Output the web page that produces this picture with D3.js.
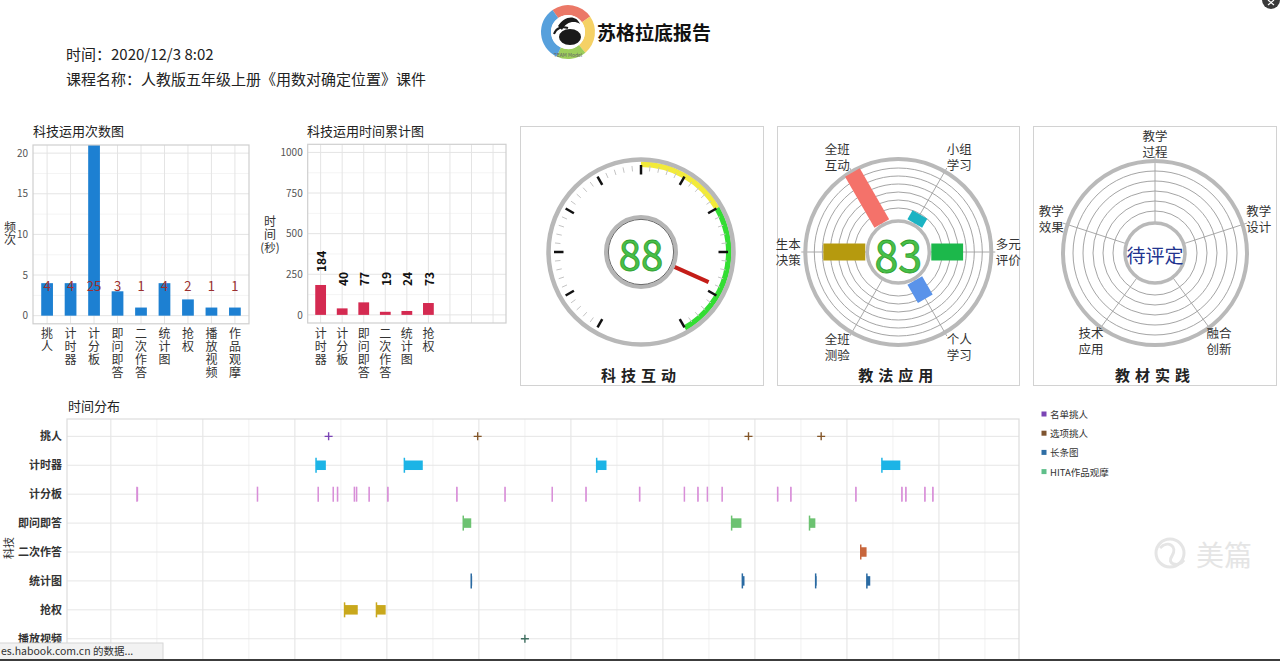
<!DOCTYPE html>
<html><head><meta charset="utf-8">
<script src="https://cdn.jsdelivr.net/npm/d3@7"></script>
<style>
html,body{margin:0;padding:0;background:#fff;overflow:hidden}
svg{display:block}
text{font-family:"Noto Sans CJK SC","Noto Sans",sans-serif}
.vert{writing-mode:vertical-rl;text-orientation:upright}
</style></head><body>
<svg id="chart" width="1280" height="661"></svg>
<script>
// ---------------- DATA ----------------
const reportTitle = "苏格拉底报告";
const headerLines = ["时间：2020/12/3 8:02", "课程名称：人教版五年级上册《用数对确定位置》课件"];

const countTitle = "科技运用次数图";
const countCats = ["挑人","计时器","计分板","即问即答","二次作答","统计图","抢权","播放视频","作品观摩"];
const countVals = [4,4,25,3,1,4,2,1,1];
const countTicks = [0,5,10,15,20];
const countYLabel = "频次";

const durTitle = "科技运用时间累计图";
const durCats = ["计时器","计分板","即问即答","二次作答","统计图","抢权"];
const durVals = [184,40,77,19,24,73];
const durTicks = [0,250,500,750,1000];
const durSlots = 9;
const durYLabel = ["时间","(秒)"];

const gaugeTitle = "科技互动";
const gaugeValue = 88;
const gaugeTicks = [0,10,20,30,40,50,60,70,80,90,100];
const gaugeBands = [[50,70],[70,100]];

const methodTitle = "教法应用";
const methodCats = ["多元评价","个人学习","全班测验","生本决策","全班互动","小组学习"];
const methodVals = [53,35,0,70,98,17];
const methodScore = 83;

const materialTitle = "教材实践";
const materialCats = ["教学过程","教学设计","融合创新","技术应用","教学效果"];
const materialStatus = "待评定";

const timelineTitle = "时间分布";
const timelineAxisTitle = "科技";
const timelineRows = ["挑人","计时器","计分板","即问即答","二次作答","统计图","抢权","播放视频","作品观摩"];
const timeDomain = [157, 3261];            // seconds after 08:00:00
const timeGridTicks = [300,450,600,750,900,1050,1200,1350,1500,1650,1800,1950,2100,2250,2400,2550,2700,2850,3000,3150];
// [start, duration] in seconds after 08:00:00
const timerEvents = [[969,32],[1257,60],[1884,32],[2814,60]];
const scoreStarts = [385,778,976,1025,1039,1094,1101,1142,1203,1428,1585,1739,1849,2024,2170,2214,2245,2293,2474,2517,2729,2879,2892,2954,2980];
const scoreDurs   = [4,1,2,1,2,2,1,2,1,2,1,2,2,1,1,1,2,1,2,1,2,1,1,2,2];
const quizEvents  = [[1449,26],[2324,32],[2578,19]];
const retryEvents = [[2745,19]];
const statEvents  = [[1475,3],[2359,7],[2598,3],[2765,11]];
const grabEvents  = [[1062,43],[1166,30]];
const pickListTimes   = [1010];
const pickOptionTimes = [1496,2379,2616];
const videoTimes = [1650];
const hitaTimes  = [2700];
const legendItems = ["名单挑人","选项挑人","长条图","HITA作品观摩"];

// ---------------- DRAW ----------------
const svg = d3.select("#chart");
const rad = d => d*Math.PI/180;

// ---- header
const logo = svg.append("g").attr("transform","translate(568,32)");
const logoArc = d3.arc().innerRadius(17).outerRadius(27);
[[-35,55,"#e8604c"],[55,140,"#f3c94a"],[140,205,"#8cc63f"],[205,325,"#3a8fd6"]].forEach(s=>{
  logo.append("path").attr("d",logoArc({startAngle:rad(s[0]),endAngle:rad(s[1])})).attr("fill",s[2]).attr("opacity",0.85);
});
logo.append("circle").attr("r",17).attr("fill","#fff");
logo.append("ellipse").attr("cx",2).attr("cy",5).attr("rx",11).attr("ry",8).attr("fill","#1a1a1a");
logo.append("path").attr("d","M-10,-6 C-4,-16 8,-18 12,-8 C6,-12 -2,-10 -6,-2 Z").attr("fill","#1a1a1a");
logo.append("path").attr("d","M-14,2 C-12,-4 -6,-6 0,-4").attr("stroke","#1a1a1a").attr("stroke-width",2).attr("fill","none");
logo.append("text").attr("x",0).attr("y",25).attr("text-anchor","middle").attr("font-size",5).attr("fill","#666").text("TEAM Model");
svg.append("text").attr("x",597).attr("y",40).attr("font-size",19).attr("font-weight","bold").attr("fill","#111").text(reportTitle);
headerLines.forEach((t,i)=>svg.append("text").attr("x",66).attr("y",60+i*25).attr("font-size",15).attr("fill","#222").text(t));

// ---- vertical (top-to-bottom) text helper
function vtext(g, x, yTop, str, size, spacing, fill){
  return g.append("text").attr("class","vert").attr("x",x).attr("y",yTop)
    .attr("font-size",size).attr("letter-spacing",spacing).attr("fill",fill).text(str);
}
// ---- two-line label helper
function twoLine(g, x, y0, lines, lh, size, fill){
  const t = g.append("text").attr("x",x).attr("y",y0).attr("text-anchor","middle").attr("font-size",size).attr("fill",fill);
  lines.forEach((s,i)=>t.append("tspan").attr("x",x).attr("dy", i===0 ? 0 : lh).text(s));
  return t;
}

// ---- Chart 1: counts
{
  const b = {l:33,r:249,t:145,b:323.8};
  const g = svg.append("g");
  g.append("text").attr("x",33).attr("y",136).attr("font-size",13).attr("fill","#222").text(countTitle);
  const x = d3.scalePoint().domain(countCats).range([b.l,b.r]).padding(0.6);
  const y = d3.scaleLinear().domain([-1,21]).range([b.b,b.t]);
  svg.append("clipPath").attr("id","clip1").append("rect").attr("x",b.l).attr("y",b.t).attr("width",b.r-b.l).attr("height",b.b-b.t);
  countTicks.forEach(t=>{ if (y(t+2.5)>b.t) g.append("line").attr("x1",b.l).attr("x2",b.r).attr("y1",y(t+2.5)).attr("y2",y(t+2.5)).attr("stroke","#f1f1f1").attr("stroke-width",0.8);});
  countTicks.forEach(t=>g.append("line").attr("x1",b.l).attr("x2",b.r).attr("y1",y(t)).attr("y2",y(t)).attr("stroke","#e4e4e4"));
  countCats.forEach(c=>g.append("line").attr("x1",x(c)).attr("x2",x(c)).attr("y1",b.t).attr("y2",b.b).attr("stroke","#e4e4e4"));
  const bw = x.step()*0.5;
  g.append("g").attr("clip-path","url(#clip1)").selectAll("rect").data(countVals).join("rect")
    .attr("x",(d,i)=>x(countCats[i])-bw/2).attr("y",d=>y(d)).attr("width",bw).attr("height",d=>y(0)-y(d)).attr("fill","#1d80d2");
  g.append("rect").attr("x",b.l).attr("y",b.t).attr("width",b.r-b.l).attr("height",b.b-b.t).attr("fill","none").attr("stroke","#cfcfcf").attr("stroke-width",1.2);
  g.selectAll(".vl").data(countVals).join("text").attr("x",(d,i)=>x(countCats[i])).attr("y",y(3.7))
    .attr("dominant-baseline","central").attr("text-anchor","middle").attr("font-size",13).attr("fill","#9b2f2f").text(d=>d);
  const ax = g.append("g").attr("transform",`translate(${b.l},0)`).call(d3.axisLeft(y).tickValues(countTicks).tickSize(0).tickPadding(5).tickFormat(d3.format("d")));
  ax.select(".domain").remove();
  ax.selectAll("text").attr("font-size",10).attr("fill","#555");
  countCats.forEach(c=>vtext(g, x(c), 327, c, 12, 1, "#333"));
  vtext(g, 10, 221, countYLabel, 12, 0, "#333");
}

// ---- Chart 2: durations
{
  const b = {l:307.7,r:506,t:144.3,b:323};
  const g = svg.append("g");
  g.append("text").attr("x",307).attr("y",136).attr("font-size",13).attr("fill","#222").text(durTitle);
  const slots = d3.range(durSlots);
  const x = d3.scalePoint().domain(slots).range([b.l,b.r]).padding(0.6);
  const y = d3.scaleLinear().domain([-50,1050]).range([b.b,b.t]);
  durTicks.forEach(t=>{ if (y(t+125)>b.t) g.append("line").attr("x1",b.l).attr("x2",b.r).attr("y1",y(t+125)).attr("y2",y(t+125)).attr("stroke","#f1f1f1").attr("stroke-width",0.8);});
  durTicks.forEach(t=>g.append("line").attr("x1",b.l).attr("x2",b.r).attr("y1",y(t)).attr("y2",y(t)).attr("stroke","#e4e4e4"));
  slots.forEach(s=>g.append("line").attr("x1",x(s)).attr("x2",x(s)).attr("y1",b.t).attr("y2",b.b).attr("stroke","#e4e4e4"));
  const bw = x.step()*0.5;
  g.selectAll(".bar").data(durVals).join("rect")
    .attr("x",(d,i)=>x(i)-bw/2).attr("y",d=>y(d)).attr("width",bw).attr("height",d=>y(0)-y(d)).attr("fill","#d42a51");
  g.append("rect").attr("x",b.l).attr("y",b.t).attr("width",b.r-b.l).attr("height",b.b-b.t).attr("fill","none").attr("stroke","#cfcfcf").attr("stroke-width",1.2);
  durVals.forEach((v,i)=>{
    const base = Math.min(y(v)-13, y(177));
    g.append("text").attr("transform",`translate(${x(i)},${base}) rotate(-90)`).attr("dominant-baseline","central")
      .attr("font-size",12).attr("font-weight","bold").attr("fill","#111").text(v);
  });
  const ax = g.append("g").attr("transform",`translate(${b.l},0)`).call(d3.axisLeft(y).tickValues(durTicks).tickSize(0).tickPadding(5).tickFormat(d3.format("d")));
  ax.select(".domain").remove();
  ax.selectAll("text").attr("font-size",10).attr("fill","#555");
  durCats.forEach((c,i)=>vtext(g, x(i), 327, c, 12, 1, "#333"));
  vtext(g, 270, 215.5, durYLabel[0], 12, 1, "#333");
  g.append("text").attr("x",270).attr("y",252).attr("text-anchor","middle").attr("font-size",11.5).attr("fill","#333").text(durYLabel[1]);
}

// ---- panel boxes
const panels = [[520,763],[777,1019],[1033,1276]];
panels.forEach(p=>svg.append("rect").attr("x",p[0]+0.5).attr("y",126.5).attr("width",p[1]-p[0]).attr("height",259).attr("fill","none").attr("stroke","#d2d2d2"));
function panelTitle(cx, t){ svg.append("text").attr("x",cx).attr("y",381).attr("text-anchor","middle").attr("font-size",15).attr("font-weight","bold").attr("letter-spacing",5).attr("fill","#222").text(t); }

// ---- Gauge
{
  const cx=641, cy=252;
  const g = svg.append("g").attr("transform",`translate(${cx},${cy})`);
  const ang = d3.scaleLinear().domain([0,100]).range([-150,150]);
  const arc = d3.arc();
  const bandColors = ["#f2ea3a","#33dd33"];
  gaugeBands.forEach((bd,i)=>g.append("path").attr("d",arc({innerRadius:85,outerRadius:90.5,startAngle:rad(ang(bd[0])),endAngle:rad(ang(bd[1]))})).attr("fill",bandColors[i]));
  g.append("circle").attr("r",92.5).attr("fill","none").attr("stroke","#b8b8b8").attr("stroke-width",4.5);
  const pt = (deg,r)=>[r*Math.sin(rad(deg)), -r*Math.cos(rad(deg))];
  d3.range(0,101,2).filter(v=>v%10!==0).forEach(v=>{
    const a=pt(ang(v),81), c=pt(ang(v),86.5);
    g.append("line").attr("x1",a[0]).attr("y1",a[1]).attr("x2",c[0]).attr("y2",c[1]).attr("stroke","#c4c4c4").attr("stroke-width",1);
  });
  gaugeTicks.forEach(v=>{
    const a=pt(ang(v),77.5), c=pt(ang(v),87);
    g.append("line").attr("x1",a[0]).attr("y1",a[1]).attr("x2",c[0]).attr("y2",c[1]).attr("stroke","#111").attr("stroke-width",2.5);
  });
  const n0=pt(ang(gaugeValue),36), n1=pt(ang(gaugeValue),74);
  g.append("line").attr("x1",n0[0]).attr("y1",n0[1]).attr("x2",n1[0]).attr("y2",n1[1]).attr("stroke","#c41d18").attr("stroke-width",4);
  g.append("circle").attr("r",35).attr("fill","#fff").attr("stroke","#b5b5b5").attr("stroke-width",4);
  g.append("circle").attr("r",32.6).attr("fill","none").attr("stroke","#444").attr("stroke-width",0.8);
  g.append("text").attr("y",1).attr("text-anchor","middle").attr("dominant-baseline","central").attr("font-size",40)
    .attr("fill","#48c048").attr("stroke","#2e9e2e").attr("stroke-width",0.8).text(gaugeValue);
  panelTitle(cx, gaugeTitle);
}

// ---- Method radial bars
{
  const cx=898.3, cy=252;
  const g = svg.append("g").attr("transform",`translate(${cx},${cy})`);
  const r = d3.scaleLinear().domain([0,100]).range([33,93]);
  const angles = d3.scaleLinear().domain([0,methodCats.length]).range([0,360]);
  [44,52,60,68,76,84].forEach(rr=>g.append("circle").attr("r",rr).attr("fill","none").attr("stroke","#9a9a9a").attr("stroke-width",0.9));
  methodCats.forEach((c,i)=>{
    const a=rad(angles(i));
    g.append("line").attr("x1",31*Math.cos(a)).attr("y1",31*Math.sin(a)).attr("x2",97*Math.cos(a)).attr("y2",97*Math.sin(a)).attr("stroke","#a0a0a0").attr("stroke-width",0.9);
  });
  g.append("circle").attr("r",93).attr("fill","none").attr("stroke","#b9b9b9").attr("stroke-width",4);
  const colors = ["#1cb84b","#5a93ea","#9a9a9a","#b69a0e","#f4726a","#1cb3c3"];
  methodVals.forEach((v,i)=>{
    if (v<=0) return;
    g.append("rect").attr("transform",`rotate(${angles(i)})`).attr("x",r(0)).attr("y",-8.5).attr("width",r(v)-r(0)).attr("height",17).attr("fill",colors[i]);
  });
  g.append("circle").attr("r",31).attr("fill","#fff").attr("stroke","#b9b9b9").attr("stroke-width",3.5);
  g.append("text").attr("y",1).attr("text-anchor","middle").attr("dominant-baseline","central").attr("font-size",43)
    .attr("fill","#48c048").attr("stroke","#2e9e2e").attr("stroke-width",0.8).text(methodScore);
  methodCats.forEach((c,i)=>{
    const a=rad(angles(i)), R=110;
    let lx=R*Math.cos(a), ly=R*Math.sin(a);
    if (Math.abs(Math.sin(a))>0.5) lx += 6*Math.sign(Math.cos(a));
    twoLine(g, lx, ly-3, [c.slice(0,2), c.slice(2)], 16, 12.5, "#333");
  });
  panelTitle(cx, methodTitle);
}

// ---- Material radar (pending)
{
  const cx=1155, cy=253;
  const g = svg.append("g").attr("transform",`translate(${cx},${cy})`);
  const angles = d3.scaleLinear().domain([0,materialCats.length]).range([-90,270]);
  [42,52,62,72,82].forEach(rr=>g.append("circle").attr("r",rr).attr("fill","none").attr("stroke","#9a9a9a").attr("stroke-width",0.9));
  materialCats.forEach((c,i)=>{
    const a=rad(angles(i));
    g.append("line").attr("x1",30*Math.cos(a)).attr("y1",30*Math.sin(a)).attr("x2",97*Math.cos(a)).attr("y2",97*Math.sin(a)).attr("stroke","#a0a0a0").attr("stroke-width",0.9);
  });
  g.append("circle").attr("r",92).attr("fill","none").attr("stroke","#b9b9b9").attr("stroke-width",4);
  g.append("circle").attr("r",30).attr("fill","#fff").attr("stroke","#b9b9b9").attr("stroke-width",3.5);
  g.append("text").attr("y",1).attr("text-anchor","middle").attr("dominant-baseline","central").attr("font-size",19).attr("fill","#22348f").text(materialStatus);
  materialCats.forEach((c,i)=>{
    const a=rad(angles(i)), R=109;
    const lx=R*Math.cos(a), ly=R*Math.sin(a);
    twoLine(g, lx, ly-3, [c.slice(0,2), c.slice(2)], 16, 12.5, "#333");
  });
  panelTitle(cx, materialTitle);
}

// ---- Timeline
{
  const b = {l:67,r:1019,t:419,b:685};
  const g = svg.append("g");
  g.append("text").attr("x",68).attr("y",411).attr("font-size",13).attr("fill","#222").text(timelineTitle);
  const x = d3.scaleLinear().domain(timeDomain).range([b.l,b.r]);
  const y = d3.scalePoint().domain(timelineRows).range([b.t,b.b]).padding(0.6);
  timeGridTicks.forEach(t=>g.append("line").attr("x1",x(t)).attr("x2",x(t)).attr("y1",b.t).attr("y2",b.b)
    .attr("stroke", t%300===0 ? "#e2e2e2" : "#eeeeee").attr("stroke-width", t%300===0 ? 1 : 0.8));
  timelineRows.forEach(r=>g.append("line").attr("x1",b.l).attr("x2",b.r).attr("y1",y(r)).attr("y2",y(r)).attr("stroke","#e6e6e6"));
  g.append("rect").attr("x",b.l).attr("y",b.t).attr("width",b.r-b.l).attr("height",b.b-b.t).attr("fill","none").attr("stroke","#dcdcdc").attr("stroke-width",1.2);
  function segs(row, events, color, h){
    const yc=y(row);
    events.forEach(e=>{
      const x0=x(e[0]), w=Math.max(x(e[0]+e[1])-x0,0.6);
      g.append("rect").attr("x",x0).attr("y",yc-h/2).attr("width",w).attr("height",h).attr("fill",color);
      g.append("line").attr("x1",x0).attr("x2",x0).attr("y1",yc-7.5).attr("y2",yc+7.5).attr("stroke",color).attr("stroke-width",1.5);
    });
  }
  segs("计时器", timerEvents, "#1cb4e6", 9.5);
  segs("计分板", scoreStarts.map((s,i)=>[s,scoreDurs[i]]), "#d88ed8", 14);
  segs("即问即答", quizEvents, "#6cc271", 9.5);
  segs("二次作答", retryEvents, "#c8663c", 9.5);
  segs("统计图", statEvents, "#2a6aa2", 9.5);
  segs("抢权", grabEvents, "#c9a81c", 9.5);
  function plus(row, times, color){
    times.forEach(t=>g.append("path").attr("transform",`translate(${x(t)},${y(row)})`).attr("d","M-4,0H4M0,-4V4")
      .attr("stroke",color).attr("stroke-width",1.4).attr("fill","none"));
  }
  plus("挑人", pickListTimes, "#7b45b5");
  plus("挑人", pickOptionTimes, "#84572a");
  plus("播放视频", videoTimes, "#3f6e60");
  plus("作品观摩", hitaTimes, "#5fbf8a");
  const ax = g.append("g").attr("transform",`translate(${b.l},0)`).call(d3.axisLeft(y).tickSize(0).tickPadding(5));
  ax.select(".domain").remove();
  ax.selectAll("text").attr("font-size",11).attr("font-weight","bold").attr("fill","#333");
  g.append("text").attr("transform","translate(13,548) rotate(-90)").attr("text-anchor","middle").attr("font-size",11).attr("fill","#333").text(timelineAxisTitle);
  // legend
  const lc = ["#7b45b5","#7e5430","#2f6ea5","#5fbf8a"];
  legendItems.forEach((t,i)=>{
    g.append("rect").attr("x",1041.5).attr("y",411.5+i*19.2).attr("width",5).attr("height",5).attr("fill",lc[i]);
    g.append("text").attr("x",1050).attr("y",414+i*19.2).attr("dominant-baseline","central").attr("font-size",9.5).attr("fill","#333").text(t);
  });
}

// ---- watermark / browser chrome
{
  const w = svg.append("g").attr("opacity",0.9);
  w.append("circle").attr("cx",1170).attr("cy",553).attr("r",14).attr("fill","none").attr("stroke","#e3e3e3").attr("stroke-width",3);
  w.append("path").attr("d","M1160,548 C1168,540 1178,546 1172,556 C1166,564 1178,568 1184,560").attr("fill","none").attr("stroke","#e3e3e3").attr("stroke-width",3);
  w.append("text").attr("x",1196).attr("y",554).attr("dominant-baseline","central").attr("font-size",28).attr("fill","#e3e3e3").text("美篇");
  svg.append("rect").attr("x",-1).attr("y",643).attr("width",164).attr("height",20).attr("fill","#f2f2f2").attr("stroke","#d6d6d6");
  svg.append("text").attr("x",1).attr("y",650).attr("dominant-baseline","central").attr("font-size",10.5).attr("fill","#333").text("es.habook.com.cn 的数据...");
  svg.append("rect").attr("x",0).attr("y",659).attr("width",1280).attr("height",2).attr("fill","#3c3c3c");
  svg.append("circle").attr("cx",1271).attr("cy",0).attr("r",9).attr("fill","#3a3a3a");
  svg.append("path").attr("d","M1268,0L1274,5M1274,0L1268,5").attr("stroke","#fff").attr("stroke-width",1.2);
}
</script></body></html>
